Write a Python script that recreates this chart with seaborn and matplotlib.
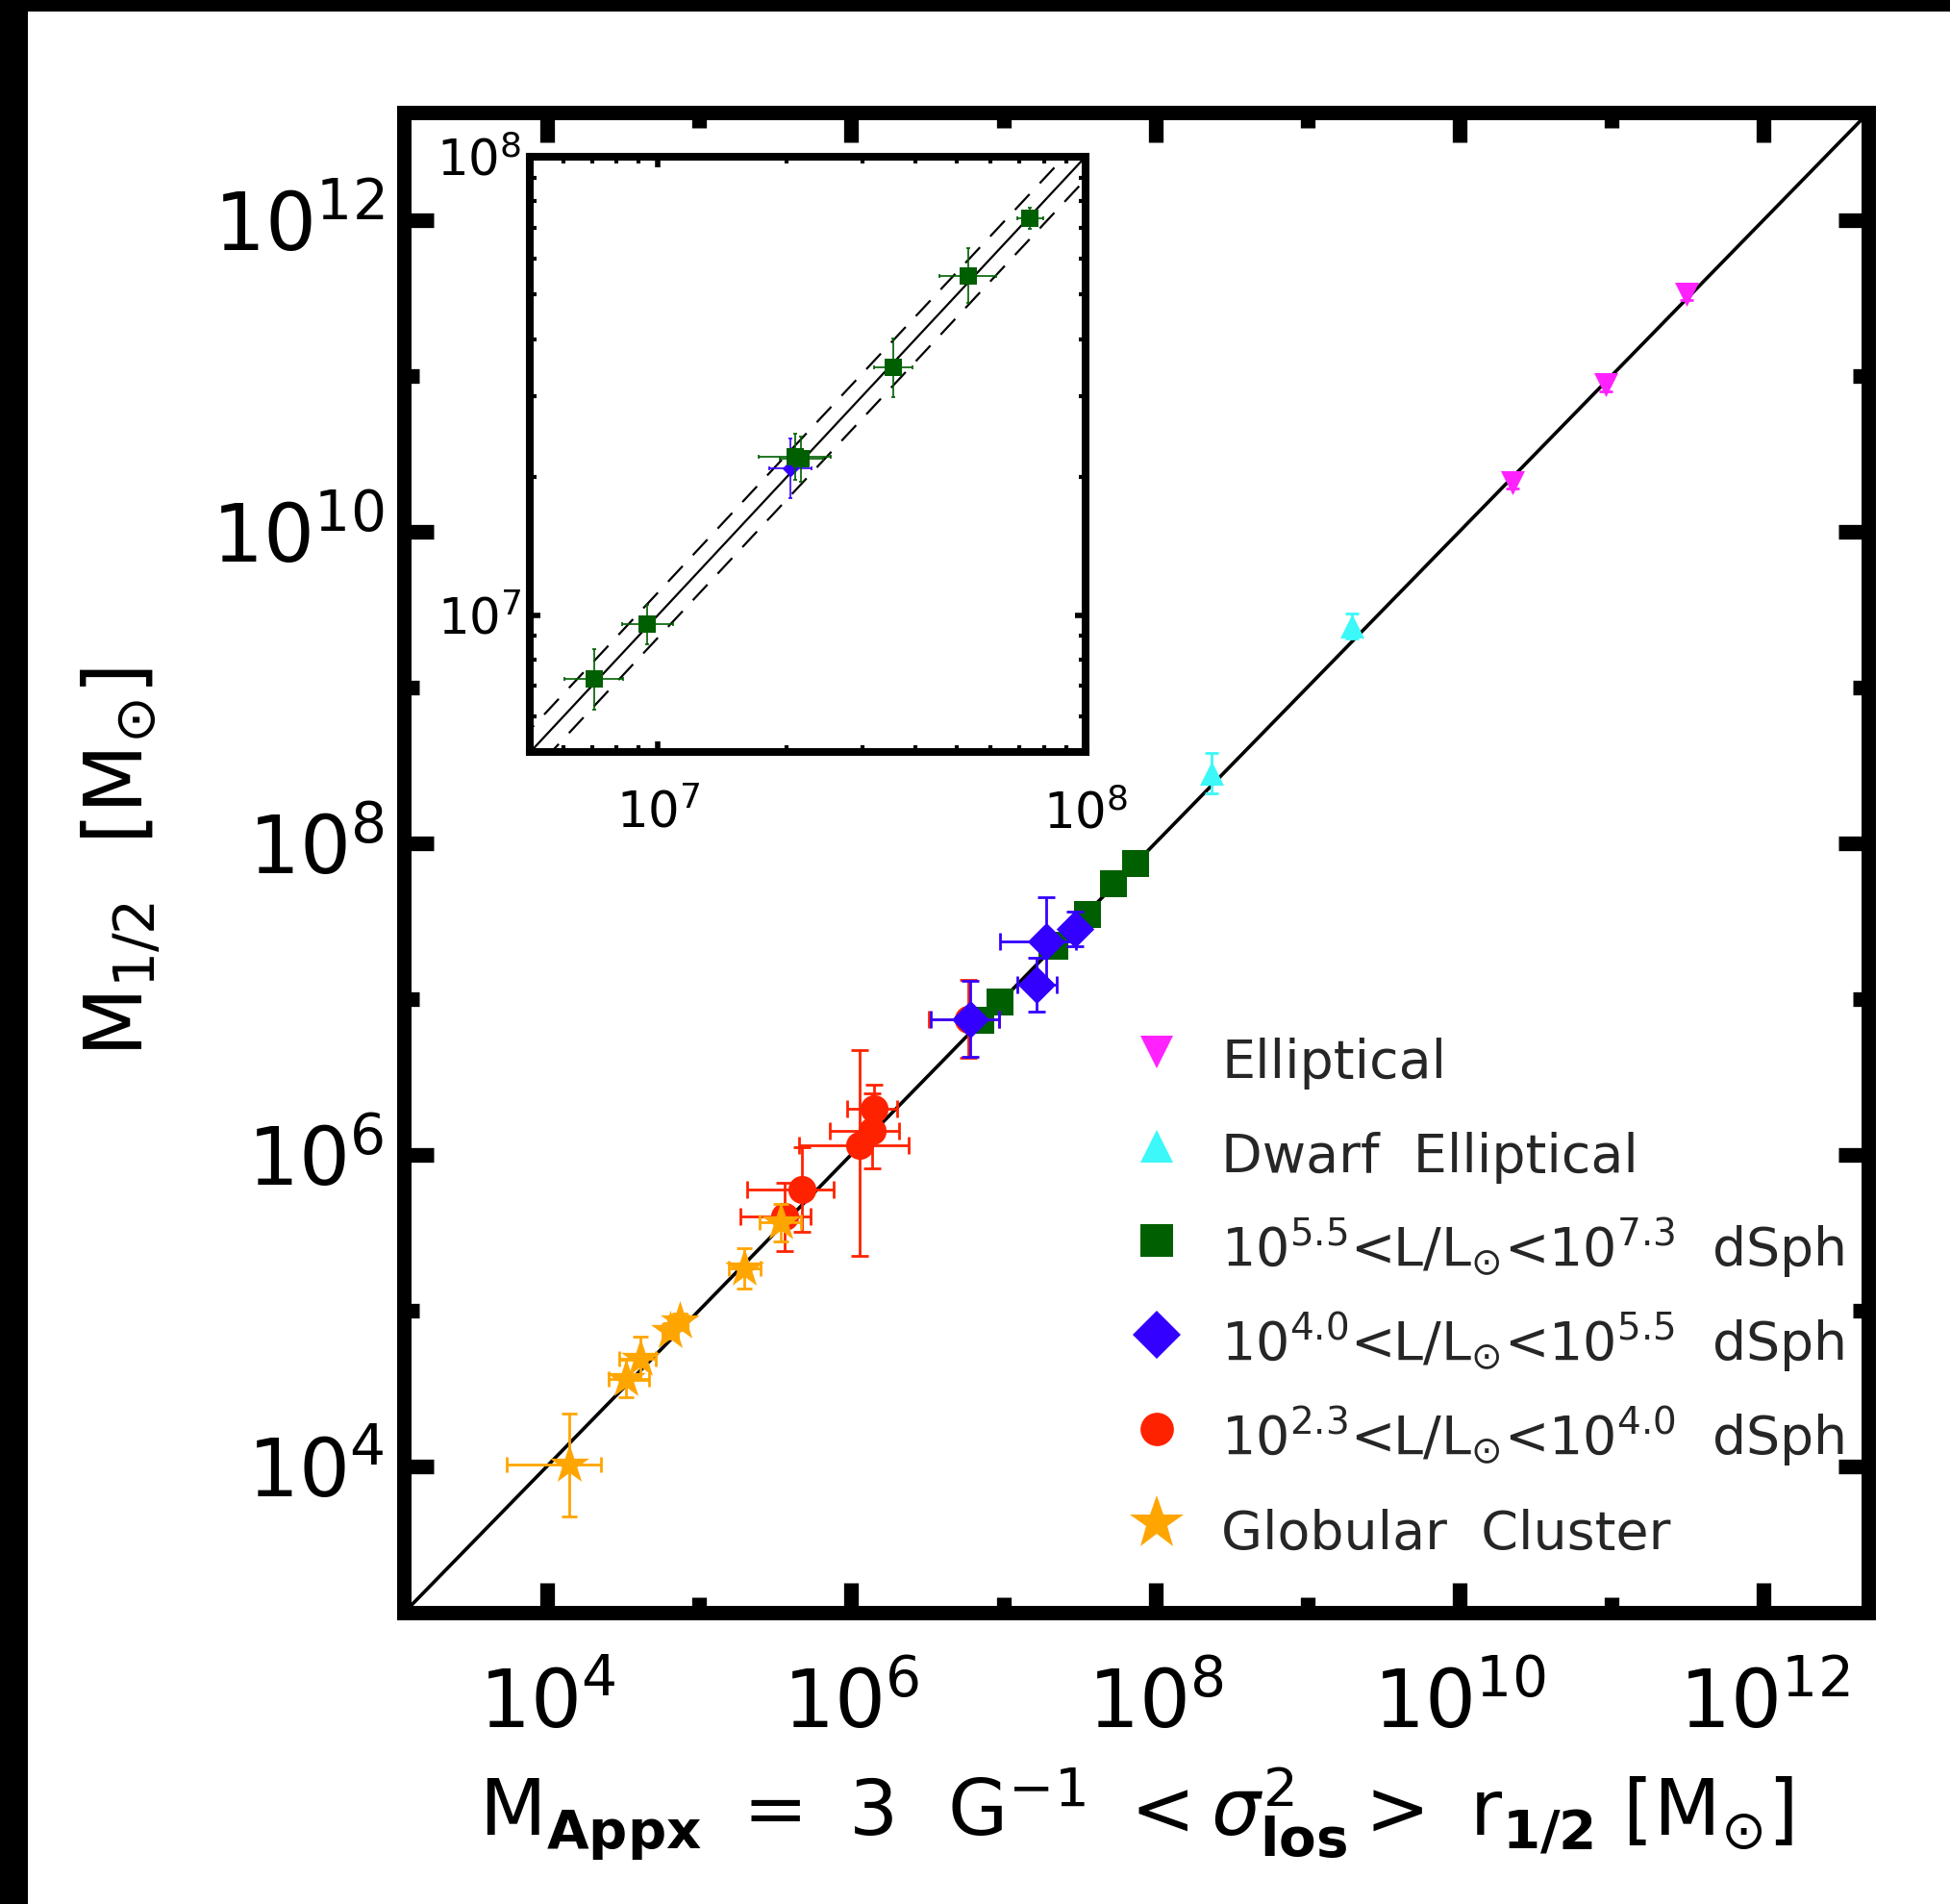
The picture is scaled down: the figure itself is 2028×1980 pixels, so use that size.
import matplotlib
matplotlib.use("Agg")
import matplotlib.pyplot as plt
from matplotlib.lines import Line2D
from matplotlib.patches import Rectangle
from matplotlib.ticker import FixedLocator, FixedFormatter, NullFormatter
import numpy as np
import pandas as pd
import seaborn as sns


# %% Data (log10 of masses, errors in dex)
ell_logx = [10.35, 10.96, 11.49]
ell_logy = [10.31, 10.94, 11.52]
ell_ex = [0.0, 0.0, 0.0]
ell_ey = [0.035, 0.04, 0.035]

dwarf_logx = [8.37, 9.29]
dwarf_logy = [8.45, 9.39]
dwarf_ex = [0.0, 0.0]
dwarf_ey = [0.13, 0.08]

bright_logx = [6.85, 6.975, 7.32, 7.335, 7.55, 7.725, 7.87]
bright_logy = [6.86, 6.98, 7.345, 7.34, 7.54, 7.74, 7.865]
bright_ex = [0.068, 0.06, 0.084, 0.05, 0.045, 0.066, 0.03]
bright_ey = [0.066, 0.043, 0.05, 0.05, 0.064, 0.06, 0.023]

mid_logx = [6.78, 7.22, 7.28, 7.47]
mid_logy = [6.87, 7.09, 7.37, 7.45]
mid_exlo = [0.26, 0.13, 0.30, 0.05]
mid_exhi = [0.19, 0.13, 0.20, 0.05]
mid_ey = [0.245, 0.17, 0.28, 0.11]

faint_logx = [5.56, 5.675, 6.054, 6.135, 6.151, 6.77]
faint_logy = [5.60, 5.776, 6.059, 6.153, 6.295, 6.87]
faint_exlo = [0.29, 0.36, 0.40, 0.275, 0.18, 0.26]
faint_exhi = [0.17, 0.21, 0.32, 0.18, 0.15, 0.20]
faint_eylo = [0.22, 0.27, 0.71, 0.24, 0.15, 0.25]
faint_eyhi = [0.22, 0.27, 0.61, 0.24, 0.15, 0.25]

gc_logx = [4.146, 4.517, 4.614, 4.809, 4.873, 5.294, 5.536]
gc_logy = [4.007, 4.561, 4.691, 4.868, 4.927, 5.269, 5.564]
gc_exlo = [0.41, 0.11, 0.14, 0.05, 0.05, 0.10, 0.14]
gc_exhi = [0.21, 0.15, 0.10, 0.05, 0.05, 0.11, 0.13]
gc_ey = [0.33, 0.12, 0.14, 0.05, 0.05, 0.13, 0.12]

# inset: the bright dSphs plus one mid-luminosity dSph
inset_mid_logx = [7.31]
inset_mid_logy = [7.32]
inset_mid_ex = [0.05]
inset_mid_ey = [0.065]

one_to_one = [1e3, 1e13]
band_factor = 1.12

main_major = [1e4, 1e6, 1e8, 1e10, 1e12]
main_minor = [1e5, 1e7, 1e9, 1e11]
main_labels = [r"$10^{4}$", r"$10^{6}$", r"$10^{8}$", r"$10^{10}$", r"$10^{12}$"]
inset_major = [1e7, 1e8]
inset_minor = [5e6, 6e6, 7e6, 8e6, 9e6, 2e7, 3e7, 4e7, 5e7, 6e7, 7e7, 8e7, 9e7]
inset_labels = [r"$10^{7}$", r"$10^{8}$"]

legend_labels = [
    "Elliptical",
    "Dwarf  Elliptical",
    r"$10^{5.5}$<L/L$_{\odot}$<$10^{7.3}$  dSph",
    r"$10^{4.0}$<L/L$_{\odot}$<$10^{5.5}$  dSph",
    r"$10^{2.3}$<L/L$_{\odot}$<$10^{4.0}$  dSph",
    "Globular  Cluster",
]

c_ell = "#ff22ff"
c_dwarf = "#3cf8f8"
c_bright = "#005f00"
c_mid = "#3300ff"
c_faint = "#ff2200"
c_gc = "#ffa500"


def make_df(logx, logy, exlo, exhi, eylo, eyhi):
    lx, ly = np.asarray(logx), np.asarray(logy)
    return pd.DataFrame({
        "x": 10 ** lx, "y": 10 ** ly,
        "xlo": 10 ** (lx - np.asarray(exlo)), "xhi": 10 ** (lx + np.asarray(exhi)),
        "ylo": 10 ** (ly - np.asarray(eylo)), "yhi": 10 ** (ly + np.asarray(eyhi)),
    })


def draw(ax, df, color, marker, size, capsize, elw, z):
    ax.errorbar(df.x, df.y,
                xerr=[df.x - df.xlo, df.xhi - df.x],
                yerr=[df.y - df.ylo, df.yhi - df.y],
                fmt="none", ecolor=color, elinewidth=elw,
                capsize=capsize, capthick=elw, zorder=z)
    sns.scatterplot(data=df, x="x", y="y", ax=ax, marker=marker, s=size ** 2,
                    color=color, linewidth=0, zorder=z + 0.5, legend=False)


ell = make_df(ell_logx, ell_logy, ell_ex, ell_ex, ell_ey, ell_ey)
dwarf = make_df(dwarf_logx, dwarf_logy, dwarf_ex, dwarf_ex, dwarf_ey, dwarf_ey)
bright = make_df(bright_logx, bright_logy, bright_ex, bright_ex, bright_ey, bright_ey)
mid = make_df(mid_logx, mid_logy, mid_exlo, mid_exhi, mid_ey, mid_ey)
faint = make_df(faint_logx, faint_logy, faint_exlo, faint_exhi, faint_eylo, faint_eyhi)
gc = make_df(gc_logx, gc_logy, gc_exlo, gc_exhi, gc_ey, gc_ey)
inset_mid = make_df(inset_mid_logx, inset_mid_logy, inset_mid_ex, inset_mid_ex,
                    inset_mid_ey, inset_mid_ey)


# %% Style
sns.set_theme(style="ticks")
plt.rcParams["font.family"] = ["DejaVu Sans"]
plt.rcParams["mathtext.fontset"] = "dejavusans"

fig = plt.figure(figsize=(20.28, 19.80), dpi=100)
fig.patch.set_facecolor("black")
fig.add_artist(Rectangle((29 / 2028, 0), 1 - 29 / 2028, 1 - 12 / 1980,
                         transform=fig.transFigure, facecolor="white",
                         edgecolor="none", zorder=-10))


# %% Main panel
ax = fig.add_axes([0.2073, 0.1531, 0.7510, 0.7879])
ax.set_xscale("log")
ax.set_yscale("log")
ax.set_xlim(10 ** 3.06, 10 ** 12.69)
ax.set_ylim(10 ** 3.06, 10 ** 12.69)
ax.set_facecolor("white")

ax.plot(one_to_one, one_to_one, color="black", lw=2.6, zorder=2)

draw(ax, ell, c_ell, "v", 18, 5.0, 2.0, 3)
draw(ax, dwarf, c_dwarf, "^", 18, 5.0, 2.0, 4)
draw(ax, bright, c_bright, "s", 20, 5.0, 2.0, 5)
draw(ax, faint, c_faint, "o", 21, 6.5, 2.0, 6)
draw(ax, mid, c_mid, "D", 20, 6.5, 2.0, 7)
draw(ax, gc, c_gc, "*", 31, 6.0, 2.0, 8)

for axis in (ax.xaxis, ax.yaxis):
    axis.set_major_locator(FixedLocator(main_major))
    axis.set_minor_locator(FixedLocator(main_minor))
    axis.set_major_formatter(FixedFormatter(main_labels))
    axis.set_minor_formatter(NullFormatter())
ax.tick_params(which="both", direction="in", top=True, right=True,
               color="black", labelcolor="black")
ax.tick_params(which="major", length=22, width=11, labelsize=60)
ax.tick_params(which="minor", length=11.5, width=11)
ax.tick_params(axis="x", which="major", pad=40)
ax.tick_params(axis="y", which="major", pad=15)
for sp in ax.spines.values():
    sp.set_linewidth(10.8)
    sp.set_color("black")

ax.set_xlabel(r"$\mathrm{M}_{\mathbf{Appx}}\ =\ 3\ \ \mathrm{G}^{-1}\ <\sigma^{2}_{\mathbf{los}}>\ \mathrm{r}_{\mathbf{1/2}}\ [\mathrm{M}_{\odot}]$",
              fontsize=58, color="black")
ax.xaxis.set_label_coords(0.5, -0.101)
ax.set_ylabel(r"$\mathrm{M}_{1/2}\ \ [\mathrm{M}_{\odot}]$", fontsize=60, color="black")
ax.yaxis.set_label_coords(-0.165, 0.5)

handles = [
    Line2D([], [], ls="none", marker="v", color=c_ell, markersize=25, markeredgewidth=0),
    Line2D([], [], ls="none", marker="^", color=c_dwarf, markersize=25, markeredgewidth=0),
    Line2D([], [], ls="none", marker="s", color=c_bright, markersize=24, markeredgewidth=0),
    Line2D([], [], ls="none", marker="D", color=c_mid, markersize=25, markeredgewidth=0),
    Line2D([], [], ls="none", marker="o", color=c_faint, markersize=25, markeredgewidth=0),
    Line2D([], [], ls="none", marker="*", color=c_gc, markersize=42, markeredgewidth=0),
]
ax.legend(handles, legend_labels, loc="upper left", bbox_to_anchor=(0.4954, 0.391),
          frameon=False, fontsize=40, handlelength=1.0, handletextpad=0.72,
          labelspacing=0.48, handleheight=1.6, borderpad=0, borderaxespad=0)


# %% Inset: zoom on the bright dSphs
axi = fig.add_axes([0.2717, 0.6048, 0.2850, 0.3129])
axi.set_xscale("log")
axi.set_yscale("log")
axi.set_xlim(10 ** 6.70, 10 ** 8.0)
axi.set_ylim(10 ** 6.70, 10 ** 8.0)
axi.set_facecolor("white")

axi.plot(one_to_one, one_to_one, color="black", lw=1.6, zorder=2)
axi.plot(one_to_one, [v * band_factor for v in one_to_one], color="black",
         lw=1.6, ls=(0, (10, 7)), zorder=2)
axi.plot(one_to_one, [v / band_factor for v in one_to_one], color="black",
         lw=1.6, ls=(0, (10, 7)), zorder=2)

draw(axi, inset_mid, c_mid, "D", 9, 1.5, 1.2, 3)
draw(axi, bright, c_bright, "s", 13, 1.5, 1.2, 4)
axi.set_xlabel("")
axi.set_ylabel("")

for axis in (axi.xaxis, axi.yaxis):
    axis.set_major_locator(FixedLocator(inset_major))
    axis.set_minor_locator(FixedLocator(inset_minor))
    axis.set_major_formatter(FixedFormatter(inset_labels))
    axis.set_minor_formatter(NullFormatter())
axi.tick_params(which="both", direction="in", top=True, right=True,
                color="black", labelcolor="black")
axi.tick_params(which="major", length=8, width=4, labelsize=37)
axi.tick_params(which="minor", length=5, width=3)
axi.tick_params(axis="x", which="major", pad=28)
axi.tick_params(axis="y", which="major", pad=6)
for sp in axi.spines.values():
    sp.set_linewidth(5.8)
    sp.set_color("black")

fig.savefig("out.png", dpi=100)
